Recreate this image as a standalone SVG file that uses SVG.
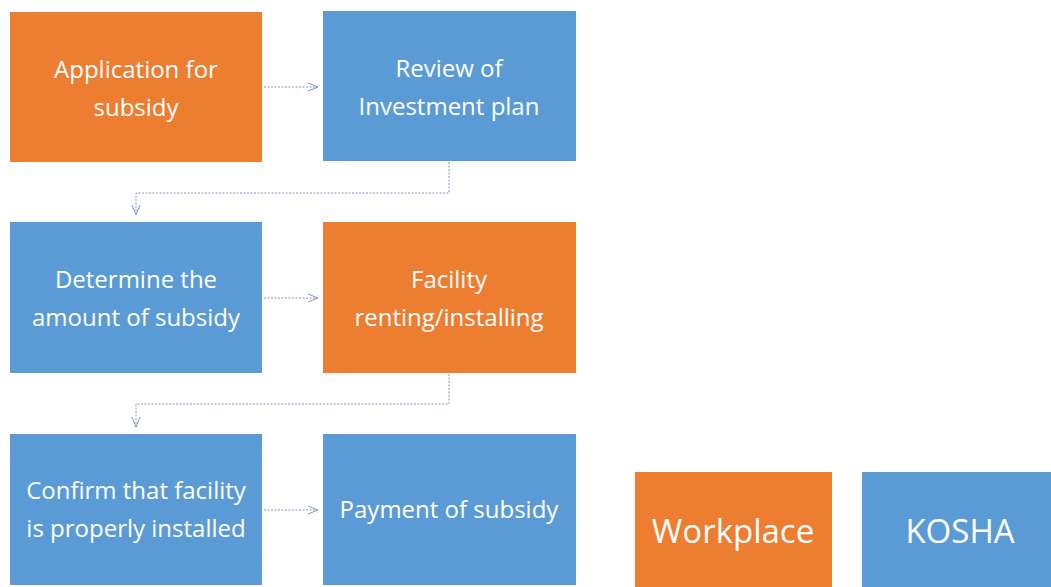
<svg xmlns="http://www.w3.org/2000/svg" width="1051" height="587" viewBox="0 0 1051 587">
<style>
.o{fill:#ED7D31}
.b{fill:#5B9BD5}
.t{font-family:"Open Sans","Noto Sans","Liberation Sans",sans-serif;font-size:24px;fill:#ffffff;text-anchor:middle}
.tl{font-family:"Open Sans","Noto Sans","Liberation Sans",sans-serif;font-size:33px;fill:#ffffff;text-anchor:middle}
.c{fill:none;stroke:#7F97BF;stroke-width:1;stroke-dasharray:2 1.5}
</style>
<defs>
<marker id="ah" viewBox="0 0 10 10" refX="10" refY="5" markerWidth="10" markerHeight="10" markerUnits="userSpaceOnUse" orient="auto">
<path d="M0,1 L10,5 L0,9" fill="none" stroke="#7F97BF" stroke-width="1"/>
</marker>
</defs>
<rect width="1051" height="587" fill="#ffffff"/>
<g id="n1"><rect class="o" x="10" y="12" width="252" height="150"/><text class="t" x="136" y="78">Application for</text><text class="t" x="136" y="116">subsidy</text></g>
<g id="n2"><rect class="b" x="323" y="11" width="253" height="150"/><text class="t" x="449" y="77">Review of</text><text class="t" x="449" y="115">Investment plan</text></g>
<g id="n3"><rect class="b" x="10" y="222" width="252" height="151"/><text class="t" x="136" y="288">Determine the</text><text class="t" x="136" y="326">amount of subsidy</text></g>
<g id="n4"><rect class="o" x="323" y="222" width="253" height="151"/><text class="t" x="449" y="288">Facility</text><text class="t" x="449" y="326">renting/installing</text></g>
<g id="n5"><rect class="b" x="10" y="434" width="252" height="151"/><text class="t" x="136" y="499">Confirm that facility</text><text class="t" x="136" y="537">is properly installed</text></g>
<g id="n6"><rect class="b" x="323" y="434" width="253" height="151"/><text class="t" x="449" y="518">Payment of subsidy</text></g>
<g id="legend-workplace"><rect class="o" x="635" y="472" width="197" height="115"/><text class="tl" x="733" y="543">Workplace</text></g>
<g id="legend-kosha"><rect class="b" x="862" y="472" width="189" height="115"/><text class="tl" x="960" y="543">KOSHA</text></g>
<g id="connectors">
<path class="c" d="M264,87 H318" marker-end="url(#ah)"/>
<path class="c" d="M449,162 V193 H136 V215" marker-end="url(#ah)"/>
<path class="c" d="M264,298 H318" marker-end="url(#ah)"/>
<path class="c" d="M449,374 V404 H136 V427" marker-end="url(#ah)"/>
<path class="c" d="M264,510 H318" marker-end="url(#ah)"/>
</g>
</svg>
